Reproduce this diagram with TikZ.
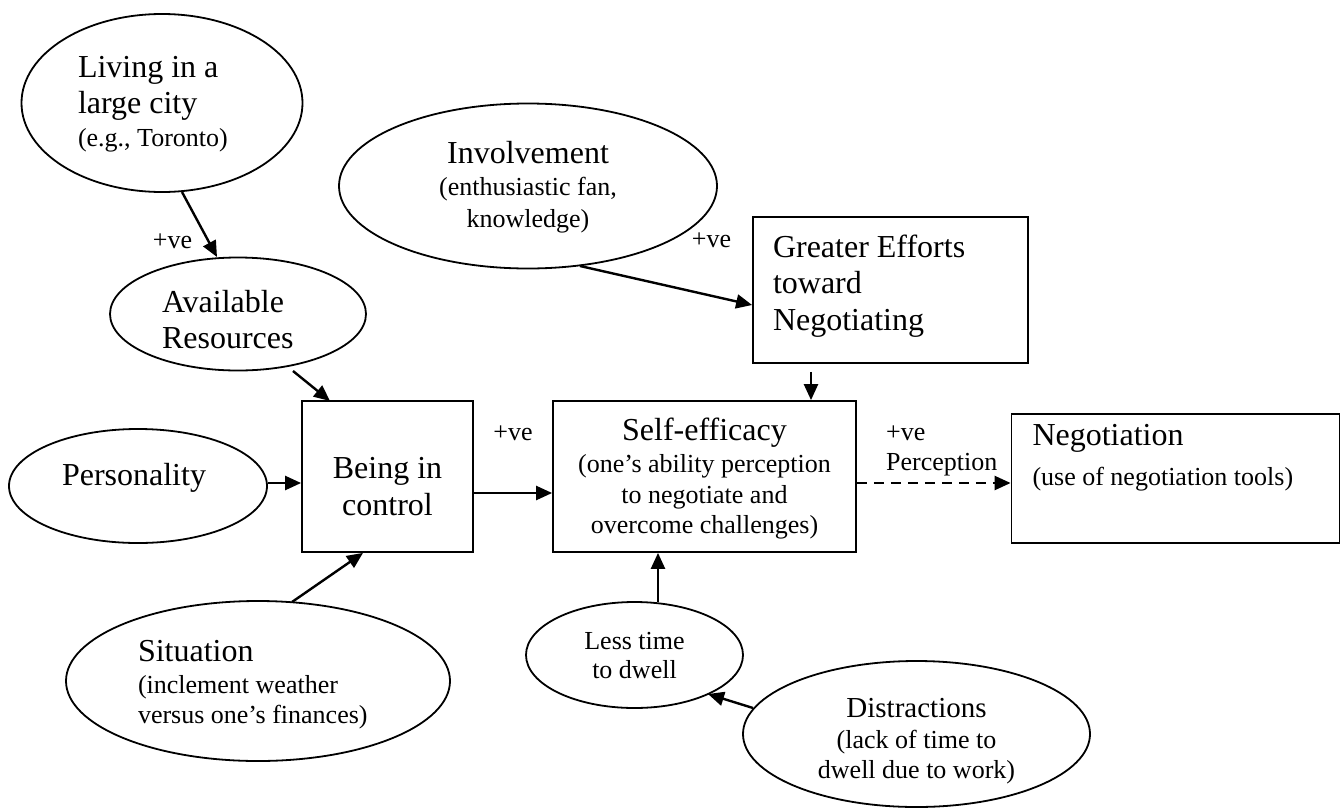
\documentclass[tikz,border=0pt]{standalone}
\usepackage{fontspec}
\setmainfont{Liberation Serif}
\usetikzlibrary{arrows.meta,shapes.geometric}
\newcommand\fL{\fontsize{32}{36}\selectfont}
\newcommand\fS{\fontsize{26}{31}\selectfont}
\newcommand\fD{\fontsize{29}{31}\selectfont}
\newcommand\plainsp{\spaceskip=0pt\xspaceskip=0pt\relax}
\begin{document}
\begin{tikzpicture}[x=1pt,y=-1pt,
  ell/.style={draw,ellipse,line width=1.8pt,inner sep=0pt},
  box/.style={draw,rectangle,line width=1.8pt,inner sep=0pt},
  arr/.style={line width=2.4pt,-{Triangle[length=16pt,width=14pt]}},
  lbl/.style={font=\fS,inner sep=0pt,anchor=base}]
\useasboundingbox (0,0) rectangle (1341,809);

% ellipses
\node[ell,minimum width=281pt,minimum height=178pt,font=\fL,align=left,text width=168pt,text height=0pt,text depth=52pt]
  (living) at (162,103) {\plainsp Living in a\\large city\\[-3pt]{\fS (e.g., Toronto)}};
\node[ell,minimum width=256pt,minimum height=113pt,font=\fL,align=left,text width=152pt,text height=0pt,text depth=4pt]
  (avail) at (238,314) {Available\\Resources};
\node[ell,minimum width=258pt,minimum height=114pt,font=\fL,align=left,text width=152pt,text height=0pt,text depth=2pt]
  (pers) at (138,486) {Personality};
\node[ell,minimum width=384pt,minimum height=160pt,font=\fS,align=left,text width=240pt,text height=0pt,text depth=40pt]
  (sit) at (258,681) {\plainsp{\fL Situation}\\[1pt](inclement weather\\[-1pt]versus one’s finances)};
\node[ell,minimum width=378pt,minimum height=165pt,font=\fS,align=center,text height=82pt,text depth=0pt]
  (inv) at (528,186) {{\fL Involvement}\\[1pt](enthusiastic fan,\\[1pt]knowledge)};
\node[ell,minimum width=217pt,minimum height=106pt,font=\fS,align=center,text height=46pt,text depth=0pt]
  (less) at (634.5,655) {Less time\\[-2pt]to dwell};
\node[ell,minimum width=347pt,minimum height=146pt,font=\fS,align=center,text height=88pt,text depth=0pt]
  (dist) at (916.5,734) {{\fD Distractions}\\(lack of time to\\[-1pt]dwell due to work)};

% boxes
\node[box,minimum width=275pt,minimum height=146pt,font=\fL,align=left,text width=235pt,inner xsep=20pt,text height=0pt,text depth=66pt]
  (greater) at (890.5,290) {\plainsp Greater Efforts\\toward\\[1pt]Negotiating};
\node[box,minimum width=171pt,minimum height=151pt,font=\fL,align=center,text height=77pt,text depth=0pt]
  (being) at (387.5,476.5) {Being in\\[1pt]control};
\node[box,minimum width=303pt,minimum height=151pt,font=\fS,align=center,text height=113pt,text depth=0pt]
  (self) at (704.5,476.5) {{\fL Self-efficacy}\\[1pt](one’s ability perception\\to negotiate and\\[-1pt]overcome challenges)};
\node[box,minimum width=327pt,minimum height=129pt,font=\fS,align=left,text width=286pt,inner xsep=21pt,text height=0pt,text depth=67pt]
  (nego) at (1175.5,478.5) {\plainsp{\fL Negotiation}\\[9pt](use of negotiation tools)};

% labels
\node[lbl] (l1) at (172.5,248) {+ve};
\node[lbl] (l2) at (711.5,247) {+ve};
\node[lbl] (l3) at (513,440) {+ve};
\node[lbl,anchor=base west,align=left] (l4) at (886,470) {+ve\\[-1pt]Perception};

% connectors
\draw[arr] ([shift={(20,89)}]living.center) -- ([shift={(-21,-57)}]avail.center);
\draw[arr] ([shift={(55,57)}]avail.center) -- ([shift={(-57.5,-75.5)}]being.center);
\draw[arr] ([yshift=3pt]pers.east) -- ([yshift=3pt]being.west |- pers.east);
\draw[arr] ([shift={(34,-79)}]sit.center) -- ([xshift=-24.5pt]being.south);
\draw[arr] ([yshift=-16.5pt]being.east) -- ([yshift=-16.5pt]self.west);
\draw[arr] ([shift={(52,80)}]inv.center) -- ([yshift=-15pt]greater.west);
\draw[arr] ([shift={(-79.5,8)}]greater.south) -- ([xshift=106.5pt]self.north);
\draw[arr] ([shift={(23.5,-53)}]less.center) -- ([xshift=-46.5pt]self.south);
\draw[arr] ([shift={(-163.5,-26)}]dist.center) -- ([shift={(73.5,39)}]less.center);
\draw[arr,dash pattern=on 10pt off 7pt] ([yshift=-6.5pt]self.east) -- ([yshift=-6.5pt]self.east -| nego.west);
\end{tikzpicture}
\end{document}
